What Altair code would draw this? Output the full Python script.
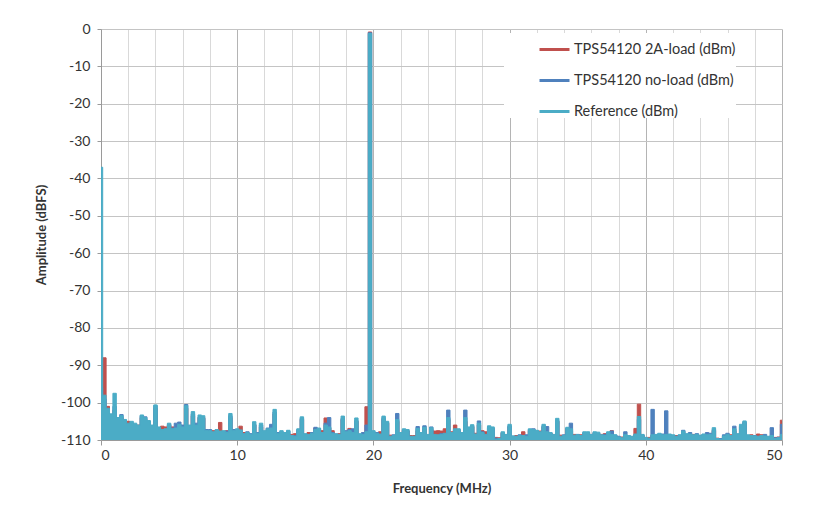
import altair as alt
import pandas as pd

# Frequency bins (MHz), 0.25 MHz spacing
freq = [i * 0.25 for i in range(201)]

# Reference (dBm), 4 bins per MHz
ref = [
    -37, -98, -101.5, -103,
    -97.5, -104, -103.5, -104.5,
    -105.5, -105, -105.5, -106,
    -103.3, -104, -104.8, -106,
    -100.6, -106.5, -107.2, -107,
    -105.5, -107, -106.8, -105.8,
    -106.5, -100.8, -106, -102.4,
    -106, -103.3, -103.5, -107.5,
    -107.5, -107.8, -107.2, -107.6,
    -107.5, -108, -102.9, -107.5,
    -107, -107.3, -108.3, -108,
    -108.5, -105.1, -108.2, -105.5,
    -107.5, -107, -106.8, -101.8,
    -108.2, -107.5, -108, -107.4,
    -108.8, -109, -107, -103.8,
    -108.3, -108.5, -108.2, -107.2,
    -106.8, -108, -106, -106.5,
    -108.2, -108.3, -108.5, -103.6,
    -107.8, -107.5, -108, -104.1,
    -108.3, -108.5, -107.8, -1.2,
    -107.5, -108.2, -108.4, -103.6,
    -105, -109, -108.8, -104.5,
    -108, -107, -107.2, -109,
    -109, -106.9, -108, -106.6,
    -108.5, -106.7, -108.5, -108.6,
    -108.5, -108.2, -104, -108,
    -107, -107, -108, -104,
    -106.5, -105.9, -108.4, -105.5,
    -108, -108.5, -106.2, -106.5,
    -109.8, -109.6, -107.8, -108.5,
    -105.8, -108.9, -109, -108.8,
    -108.8, -109, -107, -107.2,
    -107.4, -107.8, -105.8, -107.8,
    -108, -108.5, -104.2, -109,
    -108.8, -106.6, -107, -108.7,
    -108.6, -108.8, -107.8, -107.8,
    -108.5, -107.8, -107.9, -108.6,
    -108.8, -107.8, -108.5, -108.6,
    -109.2, -109.4, -108.6, -108.8,
    -109, -108.4, -103.7, -108.5,
    -109.3, -109.5, -108.6, -108.5,
    -108.2, -108.6, -108.5, -108.4,
    -108.6, -109, -108.6, -107.6,
    -108.3, -108.4, -108.6, -108.5,
    -108.7, -108.4, -108.6, -108.5,
    -106.7, -109.6, -109.8, -108.9,
    -108.5, -108.8, -107, -108.3,
    -105.8, -104.9, -108.6, -108.8,
    -108.9, -109, -108.8, -108.9,
    -109, -108.8, -109.6, -109.4,
    -108.5,
]

# TPS54120 2A-load (dBm)
load = [
    -97, -88, -101, -103.5,
    -102, -104.5, -104, -105,
    -105, -105.5, -106, -106,
    -104, -104.5, -105, -106.5,
    -101.5, -106.8, -106.3, -106.5,
    -106, -106.5, -107.2, -106.3,
    -106.8, -101.5, -106.3, -103.5,
    -106.5, -104, -104, -107.8,
    -108, -107.5, -107.8, -105.3,
    -107.8, -107.5, -104, -108,
    -107.5, -106.3, -108, -108.5,
    -108.8, -106, -108.5, -106.5,
    -108, -107.3, -107.2, -103,
    -108.5, -108, -108.3, -108.8,
    -108.5, -108.3, -107.5, -104.5,
    -108.6, -108, -108.5, -106.8,
    -107.3, -107.5, -104.1, -106.8,
    -107.5, -108.6, -108.3, -104.5,
    -108, -106.9, -108.3, -105,
    -108.5, -108.2, -101.1, -0.8,
    -108, -108.5, -107.8, -104.5,
    -105.5, -108.7, -109.2, -105,
    -108.3, -107.5, -107.6, -108.8,
    -108.8, -107.5, -108.3, -107,
    -108.8, -107.2, -107.6, -107.5,
    -107.6, -107, -104.5, -107.8,
    -106, -107.5, -108.3, -105,
    -107, -106.5, -108.2, -106,
    -107.5, -107.8, -106.8, -107,
    -109.3, -109.4, -108, -108.8,
    -106.5, -109.2, -108.8, -109,
    -107.8, -108.8, -107.5, -107.6,
    -107.7, -107.6, -106.5, -108,
    -108.2, -108.8, -105, -108.7,
    -109, -107, -107.5, -108.5,
    -108.8, -108.6, -108.2, -108,
    -108.8, -108.2, -108.3, -108.5,
    -108.3, -108.2, -107.5, -108.8,
    -109.4, -109.2, -108.8, -109,
    -109.2, -106.9, -100.4, -108.8,
    -109.5, -109.3, -108.8, -108.7,
    -108.6, -108.8, -108.7, -108.8,
    -108.8, -108.8, -108.9, -108,
    -108.6, -108.8, -108.5, -108.8,
    -108.8, -108.6, -108.8, -108.7,
    -107.5, -109.5, -109.6, -109,
    -108.8, -108.6, -107.5, -108.5,
    -106.5, -105.5, -108.8, -108.6,
    -109, -108.4, -108.6, -109,
    -109.2, -109, -109.3, -109.2,
    -104.7,
]

# TPS54120 no-load (dBm)
noload = [
    -96, -99, -102, -103.5,
    -101, -104, -103.2, -104.8,
    -106, -105.5, -105.8, -106.3,
    -103.5, -103.8, -105, -106.3,
    -100.8, -106.8, -107.3, -107.4,
    -105.8, -106.8, -105.5, -105.2,
    -106, -100.5, -106.5, -103,
    -105.5, -103.8, -104.2, -107.2,
    -107.2, -108, -107.5, -107.8,
    -108, -107.6, -103.5, -107.2,
    -107.3, -107.6, -108.5, -107.8,
    -108.3, -105.8, -108, -106,
    -107.8, -106.8, -105.8, -102.5,
    -108, -107.8, -108.3, -107.6,
    -109, -108.8, -107.2, -104.2,
    -108.5, -108.7, -108, -106.6,
    -107, -108.2, -105.5, -104,
    -108, -108.5, -108.7, -104.2,
    -107.5, -107.2, -107, -104.8,
    -108.6, -108, -106, -1.0,
    -107.8, -108, -108.6, -104,
    -105.3, -109.2, -108.6, -102.9,
    -108.5, -107.3, -107.5, -109.2,
    -109.2, -106.4, -108.2, -106.2,
    -108.7, -106.5, -108.7, -108.8,
    -108.3, -108.5, -102, -108.2,
    -107.3, -107.2, -108.2, -102,
    -106.8, -106.2, -108.6, -104.9,
    -107.8, -108.7, -106.6, -106.8,
    -109.5, -109.8, -108.2, -108.6,
    -106.2, -109, -109.2, -108.6,
    -109, -108.6, -107.2, -107,
    -107.6, -108, -106.2, -106.4,
    -108.3, -108.6, -104.8, -109.2,
    -108.6, -106.8, -105.5, -108.8,
    -108.5, -109, -108, -108.2,
    -108.6, -108, -108.2, -108.8,
    -108.5, -108, -107.6, -108.7,
    -109, -109.5, -107.8, -109,
    -109.2, -108.6, -104.5, -108.6,
    -109.4, -109.6, -101.8, -108.7,
    -108.5, -108.4, -102.2, -108.6,
    -108.8, -109.2, -108.7, -107.4,
    -108.5, -108, -108.8, -108.3,
    -108.9, -108.5, -108, -108.2,
    -107.2, -109.8, -109.6, -108.6,
    -108.2, -109, -106.3, -108.6,
    -106.2, -105.2, -108.9, -109,
    -108.8, -109.2, -108.9, -108.5,
    -109.3, -106.7, -109.4, -109.3,
    -105.8,
]

names = ["TPS54120 2A-load (dBm)", "TPS54120 no-load (dBm)", "Reference (dBm)"]
colors = ["#C0504D", "#4F81BD", "#4BACC6"]
x_ticks = list(range(0, 51, 2))
y_ticks = list(range(-110, 1, 10))

rows = []
for name, vals in zip(names, [load, noload, ref]):
    for f, v in zip(freq, vals):
        rows.append({"freq": f, "amp": v, "series": name})
df = pd.DataFrame(rows)

x_axis = alt.Axis(
    values=x_ticks,
    labelExpr="datum.value % 10 === 0 ? datum.label : ''",
    gridColor={"condition": {"test": "datum.value % 10 === 0", "value": "#b4b4b4"}, "value": "#d9d9d9"},
    tickColor={"condition": {"test": "datum.value % 10 === 0", "value": "#9a9a9a"}, "value": "transparent"},
    tickSize=5,
    labelPadding=3,
    titlePadding=20,
    domainColor="#9a9a9a",
)
y_axis = alt.Axis(
    values=y_ticks,
    labelExpr="'' + datum.value",
    gridColor="#c4c4c4",
    tickColor="#9a9a9a",
    tickSize=4,
    labelPadding=7,
    titlePadding=12,
    domainColor="#9a9a9a",
)

x = alt.X("freq:Q", title="Frequency (MHz)", scale=alt.Scale(domain=[0, 50], nice=False), axis=x_axis)
y = alt.Y("amp:Q", title="Amplitude (dBFS)", scale=alt.Scale(domain=[-110, 0], nice=False, zero=False), axis=y_axis)

line_scale = alt.Scale(domain=names, range=colors)
legend = alt.Legend(
    title=None,
    orient="none",
    legendX=403,
    legendY=4,
    padding=0,
    fillColor="white",
    symbolType="stroke",
    symbolSize=900,
    symbolStrokeWidth=3,
    symbolOffset=34,
    labelOffset=3,
    rowPadding=8,
    labelFontSize=14.5,
    labelFont="Lato",
    labelColor="#333333",
    labelLimit=300,
)

base = alt.Chart(df)
layers = []
for name, col in zip(names, colors):
    sub = base.transform_filter(alt.datum.series == name)
    area = sub.mark_area(interpolate="step", clip=True, color=col).encode(
        x=x, y=y, y2=alt.datum(-110),
    )
    line = sub.mark_line(interpolate="step", strokeWidth=1, clip=True).encode(
        x=x, y=y,
        stroke=alt.Stroke("series:N", scale=line_scale, legend=legend),
    )
    layers += [area, line]

chart = alt.layer(*layers).properties(
    width=681,
    height=411,
    autosize=alt.AutoSizeParams(type="none"),
    padding={"left": 93, "top": 21, "right": 29, "bottom": 62},
).configure_view(stroke=None).configure_axis(
    labelFont="Lato",
    labelFontSize=14,
    labelColor="#333333",
    titleFont="Lato",
    titleFontSize=13,
    titleFontWeight="bold",
    titleColor="#333333",
)

chart.save("out.html", embed_options={"renderer": "svg", "actions": False})
